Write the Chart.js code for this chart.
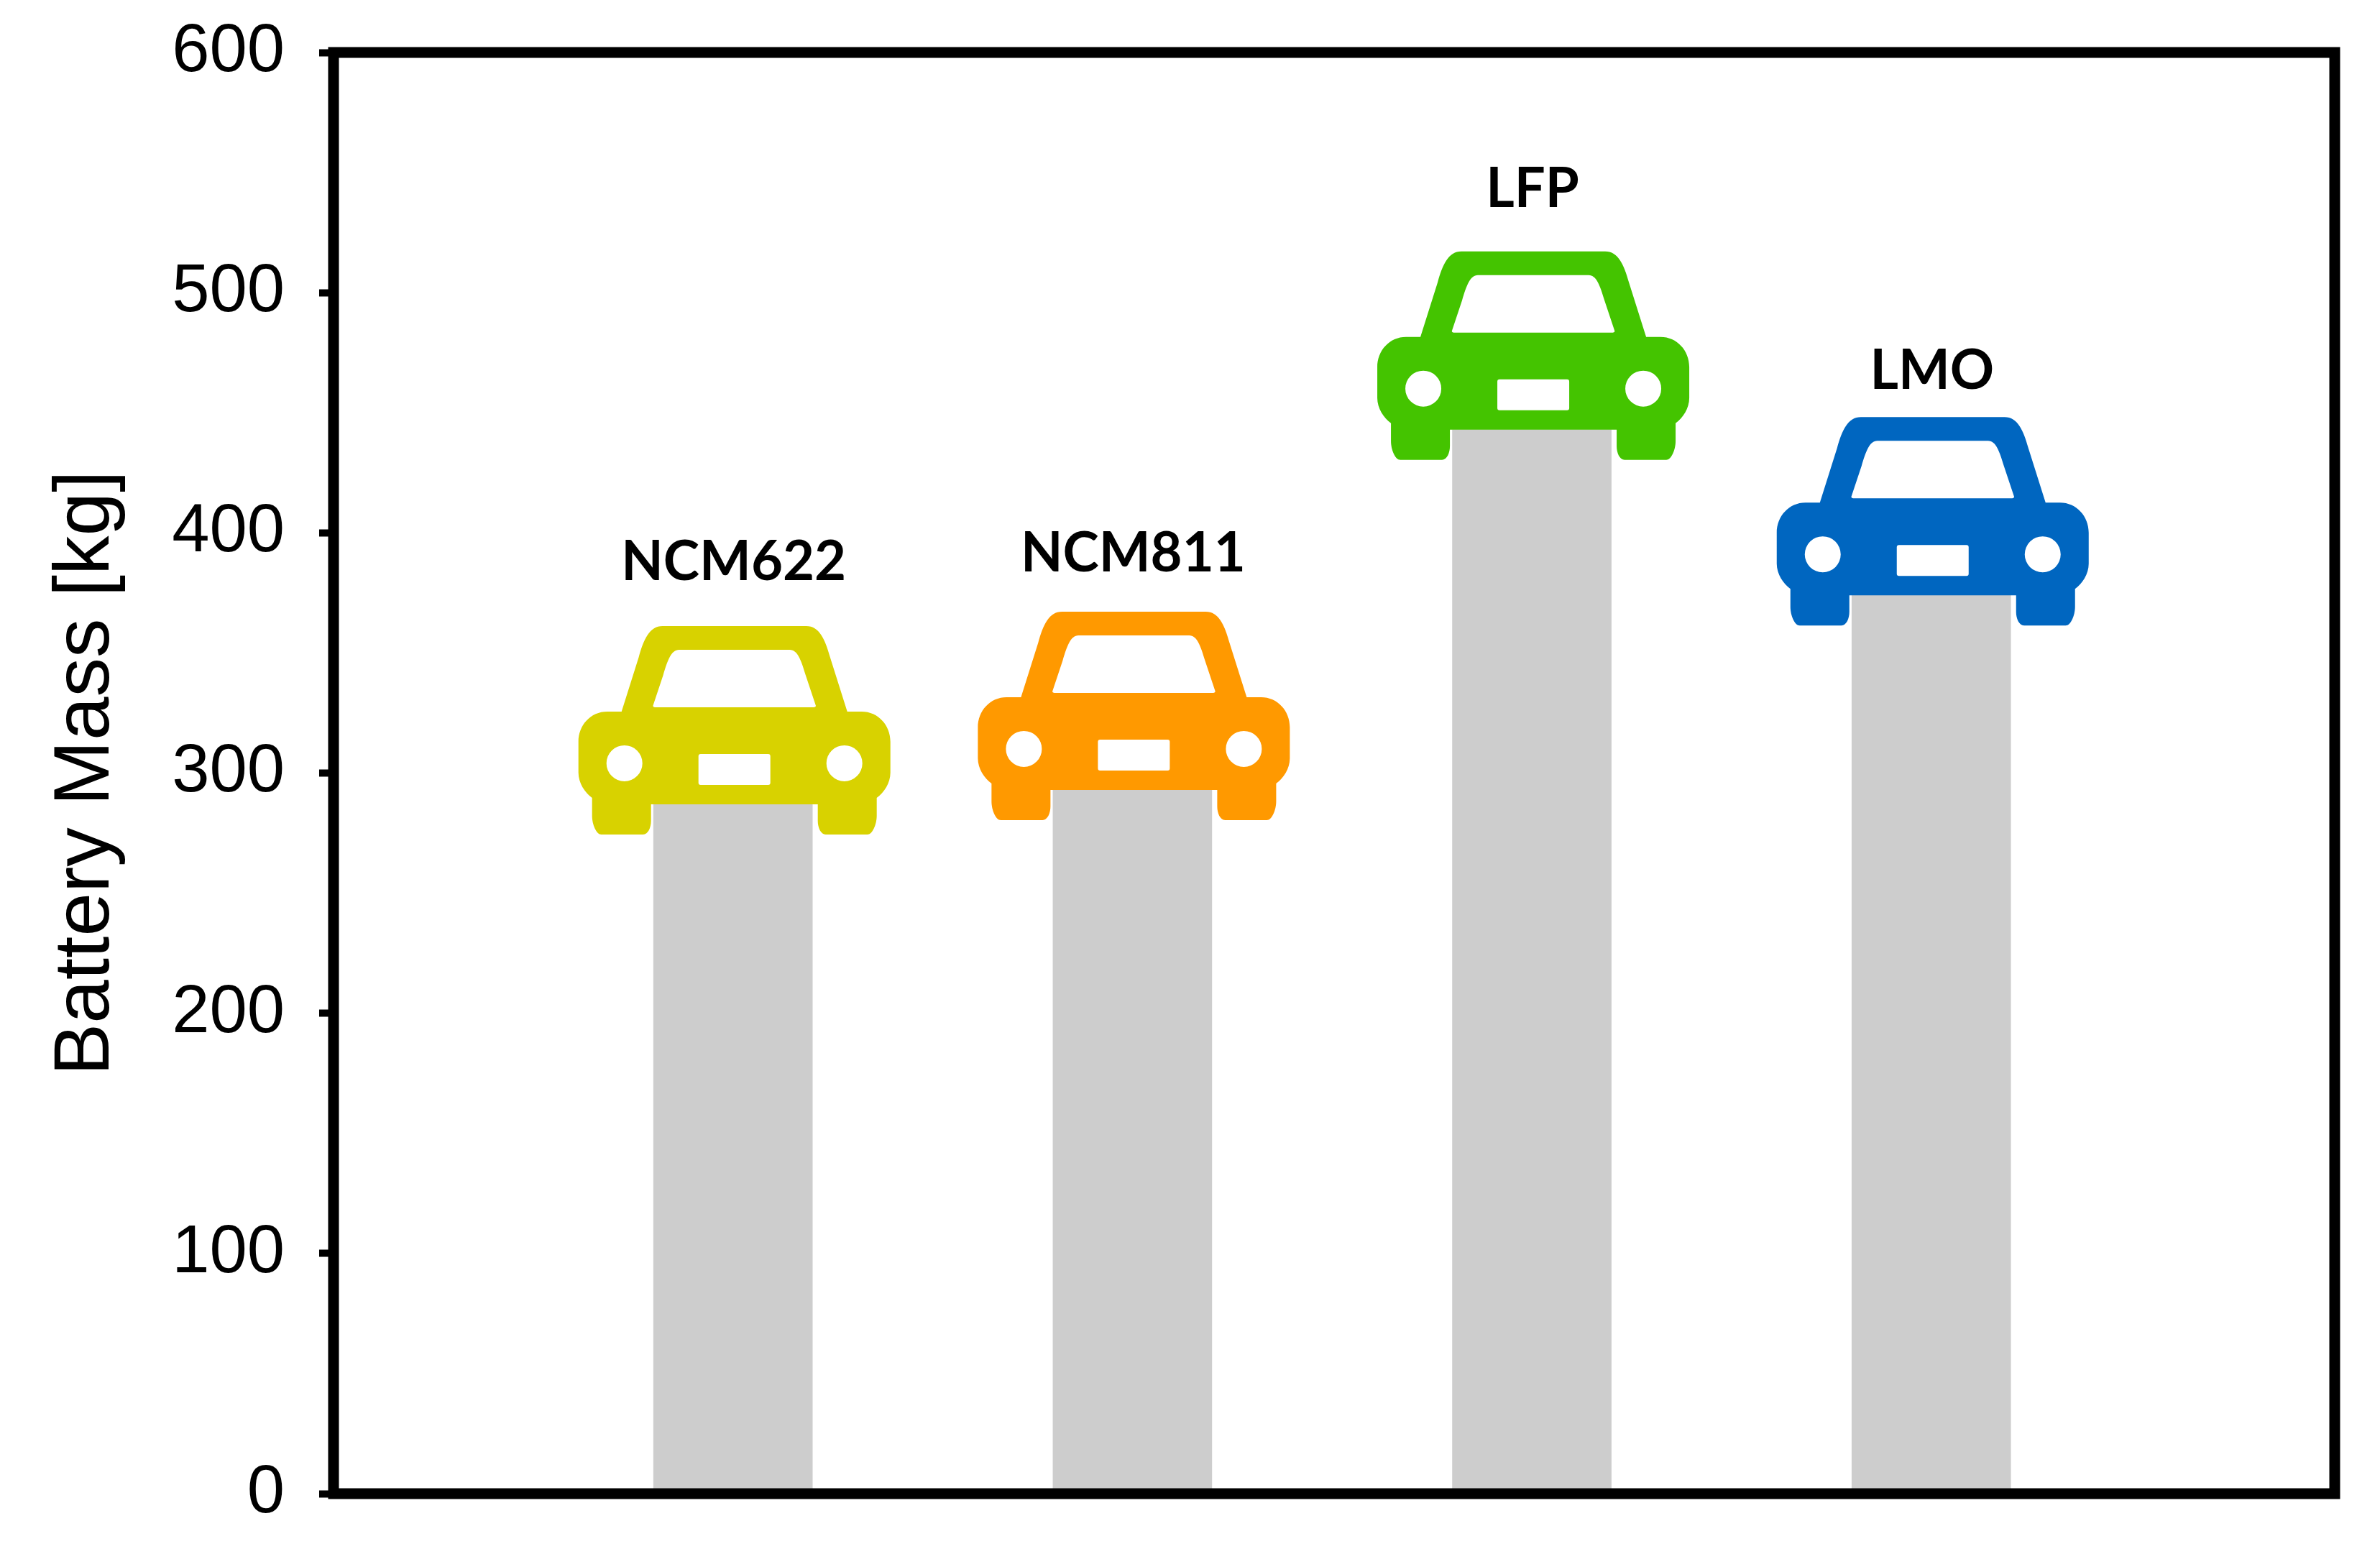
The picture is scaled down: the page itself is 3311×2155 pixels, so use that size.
<!DOCTYPE html>
<html>
<head>
<meta charset="utf-8">
<title>Battery Mass</title>
<script src="https://cdn.jsdelivr.net/npm/chart.js@4"></script>
<style>
  html, body { margin: 0; padding: 0; background: #fff; }
  canvas { display: block; }
</style>
</head>
<body>
<canvas id="chart" width="3311" height="2155"></canvas>
<script>
const categories = ['NCM622', 'NCM811', 'LFP', 'LMO'];
const batteryMass = [287, 293, 443, 374];
const carColors = ['#D8D200', '#FF9900', '#44C400', '#0066C0'];
const yTicks = [0, 100, 200, 300, 400, 500, 600];

// labels were placed by hand in the original, so each has its own lift above the bar
const labelLift = [312, 304, 310, 287];

// car icon, px relative to the middle of the bar top
const car = new Path2D(
  'M-100,-248 L100,-248 C118,-248 126,-230 133,-205 L157,-129 L177,-129 ' +
  'C200,-129 217,-110 217,-87 L217,-44 C217,-30 208,-16 198,-9 L198,16 ' +
  'C198,28 192,42 185,42 L127,42 C120,42 116,32 116,23 L116,0 L-116,0 ' +
  'L-116,23 C-116,32 -120,42 -127,42 L-185,42 C-192,42 -198,28 -198,16 L-198,-9 ' +
  'C-208,-16 -217,-30 -217,-44 L-217,-87 C-217,-110 -200,-129 -177,-129 L-157,-129 ' +
  'L-133,-205 C-126,-230 -118,-248 -100,-248 Z ' +
  // windscreen
  'M-77,-215 L77,-215 C88,-215 93,-200 99,-180 L113,-138 C114,-136 112,-135 110,-135 ' +
  'L-110,-135 C-112,-135 -114,-136 -113,-138 L-99,-180 C-93,-200 -88,-215 -77,-215 Z ' +
  // plate
  'M-47,-70 L47,-70 C49,-70 50,-69 50,-67 L50,-30 C50,-28 49,-27 47,-27 L-47,-27 ' +
  'C-49,-27 -50,-28 -50,-30 L-50,-67 C-50,-69 -49,-70 -47,-70 Z ' +
  // headlights
  'M-128,-57 A25,25 0 1 0 -178,-57 A25,25 0 1 0 -128,-57 Z ' +
  'M178,-57 A25,25 0 1 0 128,-57 A25,25 0 1 0 178,-57 Z'
);

const carsAndFrame = {
  id: 'carsAndFrame',
  afterDraw(chart) {
    const ctx = chart.ctx;
    const area = chart.chartArea;
    const bars = chart.getDatasetMeta(0).data;

    bars.forEach((bar, i) => {
      ctx.save();
      ctx.translate(bar.x + 2, bar.y);
      ctx.fillStyle = carColors[i];
      ctx.fill(car, 'evenodd');
      ctx.restore();

      ctx.save();
      ctx.fillStyle = '#000';
      ctx.font = 'bold 76px Lato';
      ctx.textAlign = 'center';
      ctx.textBaseline = 'alphabetic';
      ctx.fillText(categories[i], bar.x + 1, bar.y - labelLift[i]);
      ctx.restore();
    });

    ctx.save();
    ctx.strokeStyle = '#000';
    ctx.lineWidth = 15;
    ctx.strokeRect(area.left, area.top, area.right - area.left, area.bottom - area.top);
    ctx.restore();
  }
};

new Chart(document.getElementById('chart').getContext('2d'), {
  type: 'bar',
  data: {
    datasets: [{
      data: batteryMass.map((v, i) => ({ x: i + 1, y: v })),
      backgroundColor: '#CDCDCD',
      barThickness: 221
    }]
  },
  plugins: [carsAndFrame],
  options: {
    responsive: false,
    animation: false,
    devicePixelRatio: 1,
    layout: { padding: { top: 73, right: 63, left: 0, bottom: 0 } },
    plugins: { legend: { display: false }, tooltip: { enabled: false } },
    scales: {
      x: {
        type: 'linear',
        offset: false,
        min: 0,
        max: 5.01,
        grid: { display: false },
        border: { display: false },
        ticks: { display: false },
        afterFit: (scale) => { scale.height = 77; }
      },
      y: {
        min: 0,
        max: 600,
        afterBuildTicks: (scale) => { scale.ticks = yTicks.map((v) => ({ value: v })); },
        afterFit: (scale) => {
          scale.width = 464;
          // no extra room for half a tick label, the plot area is fixed
          scale.paddingTop = 0;
          scale.paddingBottom = 0;
        },
        grid: { drawOnChartArea: false, color: '#000', tickColor: '#000', tickWidth: 10, tickLength: 20 },
        border: { display: false },
        ticks: { color: '#000', padding: 48, font: { family: 'Liberation Sans', size: 94 } },
        title: {
          display: true,
          text: 'Battery Mass [kg]',
          color: '#000',
          font: { family: 'Liberation Sans', size: 109 },
          padding: { top: 56, bottom: 0 }
        }
      }
    }
  }
});
</script>
</body>
</html>
